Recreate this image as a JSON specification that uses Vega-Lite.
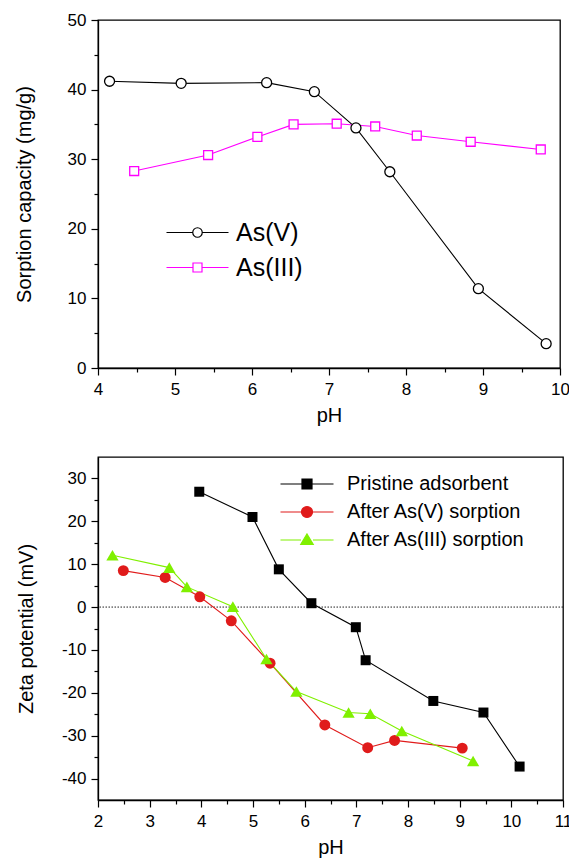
{
  "$schema": "https://vega.github.io/schema/vega-lite/v6.json",
  "padding": {"left": 13, "top": 10, "right": 0, "bottom": 0},
  "spacing": 30,
  "resolve": {
    "scale": {"color": "independent"},
    "legend": {"color": "independent"}
  },
  "config": {
    "font": "Liberation Sans",
    "view": {"stroke": "black", "strokeWidth": 1.3},
    "axis": {
      "grid": false,
      "domainColor": "black",
      "domainWidth": 1.3,
      "tickColor": "black",
      "tickWidth": 1.2,
      "labelColor": "black",
      "titleColor": "black",
      "labelFont": "Liberation Sans",
      "titleFont": "Liberation Sans",
      "labelFontSize": 17,
      "titleFontSize": 20,
      "titleFontWeight": "normal",
      "labelOverlap": false,
      "labelFlush": false
    },
    "legend": {"labelFont": "Liberation Sans", "labelColor": "black", "labelLimit": 400}
  },
  "vconcat": [
    {
      "width": 462,
      "height": 348,
      "data": {"values": [
        {"series": "As(V)", "pH": 4.15, "q": 41.2},
        {"series": "As(V)", "pH": 5.08, "q": 40.9},
        {"series": "As(V)", "pH": 6.19, "q": 41.0},
        {"series": "As(V)", "pH": 6.81, "q": 39.7},
        {"series": "As(V)", "pH": 7.35, "q": 34.5},
        {"series": "As(V)", "pH": 7.79, "q": 28.2},
        {"series": "As(V)", "pH": 8.94, "q": 11.4},
        {"series": "As(V)", "pH": 9.82, "q": 3.5},
        {"series": "As(III)", "pH": 4.47, "q": 28.3},
        {"series": "As(III)", "pH": 5.43, "q": 30.6},
        {"series": "As(III)", "pH": 6.07, "q": 33.2},
        {"series": "As(III)", "pH": 6.54, "q": 35.0},
        {"series": "As(III)", "pH": 7.10, "q": 35.1},
        {"series": "As(III)", "pH": 7.60, "q": 34.7},
        {"series": "As(III)", "pH": 8.14, "q": 33.4},
        {"series": "As(III)", "pH": 8.84, "q": 32.5},
        {"series": "As(III)", "pH": 9.75, "q": 31.4}
      ]},
      "encoding": {
        "x": {"field": "pH", "type": "quantitative", "title": "pH",
          "scale": {"domain": [4, 10], "nice": false, "zero": false},
          "axis": {"values": [4, 4.5, 5, 5.5, 6, 6.5, 7, 7.5, 8, 8.5, 9, 9.5, 10],
            "labelExpr": "datum.value % 1 === 0 ? '' + datum.value : ''",
            "tickSize": {"condition": {"test": "datum.value % 1 === 0", "value": 7}, "value": 4},
            "labelPadding": 6, "titlePadding": 8}},
        "y": {"field": "q", "type": "quantitative", "title": "Sorption capacity (mg/g)",
          "scale": {"domain": [0, 50], "nice": false},
          "axis": {"values": [0, 5, 10, 15, 20, 25, 30, 35, 40, 45, 50],
            "labelExpr": "datum.value % 10 === 0 ? '' + datum.value : ''",
            "tickSize": {"condition": {"test": "datum.value % 10 === 0", "value": 7}, "value": 4},
            "labelPadding": 5, "titlePadding": 33}}
      },
      "layer": [
        {
          "mark": {"type": "line", "strokeWidth": 1.1},
          "encoding": {
            "color": {"field": "series", "type": "nominal",
              "scale": {"domain": ["As(V)", "As(III)"], "range": ["#000000", "#ff00ff"]},
              "legend": {"title": null, "orient": "none", "legendX": 87, "legendY": 200,
                "labelFontSize": 25, "symbolSize": 100, "symbolStrokeWidth": 1.2,
                "labelOffset": 26, "rowPadding": 9,
                "encoding": {"symbols": {
                  "shape": {"value": {"expr": "datum.value === 'As(V)' ? 'M-6.2,0L-0.95,0M0.95,0L6.2,0M-0.95,0A0.95,0.95,0,1,1,0.95,0A0.95,0.95,0,1,1,-0.95,0Z' : 'M-6.2,0L-0.9,0M0.9,0L6.2,0M-0.9,-0.9L0.9,-0.9L0.9,0.9L-0.9,0.9Z'"}},
                  "size": {"value": 100},
                  "fill": {"value": "white"},
                  "strokeWidth": {"value": 1.2}
                }}}}
          }
        },
        {
          "transform": [{"filter": "datum.series === 'As(V)'"}],
          "mark": {"type": "point", "shape": "circle", "size": 100, "filled": false, "fill": "white", "stroke": "#000000", "strokeWidth": 1.3, "opacity": 1}
        },
        {
          "transform": [{"filter": "datum.series === 'As(III)'"}],
          "mark": {"type": "point", "shape": "square", "size": 80, "filled": false, "fill": "white", "stroke": "#ff00ff", "strokeWidth": 1.3, "opacity": 1}
        },
        {
          "data": {"values": [{"label": "(a)"}]},
          "mark": {"type": "text", "fontSize": 19, "font": "Liberation Sans", "color": "black"},
          "encoding": {"x": {"datum": 4.36}, "y": {"datum": 46.3}, "text": {"field": "label"}}
        }
      ]
    },
    {
      "width": 465,
      "height": 343,
      "data": {"values": [
        {"series": "Pristine adsorbent", "pH": 3.96, "zeta": 26.9},
        {"series": "Pristine adsorbent", "pH": 4.99, "zeta": 21.0},
        {"series": "Pristine adsorbent", "pH": 5.50, "zeta": 8.8},
        {"series": "Pristine adsorbent", "pH": 6.13, "zeta": 0.9},
        {"series": "Pristine adsorbent", "pH": 6.99, "zeta": -4.7},
        {"series": "Pristine adsorbent", "pH": 7.18, "zeta": -12.4},
        {"series": "Pristine adsorbent", "pH": 8.49, "zeta": -21.9},
        {"series": "Pristine adsorbent", "pH": 9.46, "zeta": -24.6},
        {"series": "Pristine adsorbent", "pH": 10.16, "zeta": -37.2},
        {"series": "After As(V) sorption", "pH": 2.49, "zeta": 8.5},
        {"series": "After As(V) sorption", "pH": 3.30, "zeta": 6.9},
        {"series": "After As(V) sorption", "pH": 3.97, "zeta": 2.4},
        {"series": "After As(V) sorption", "pH": 4.58, "zeta": -3.2},
        {"series": "After As(V) sorption", "pH": 5.33, "zeta": -13.1},
        {"series": "After As(V) sorption", "pH": 6.39, "zeta": -27.5},
        {"series": "After As(V) sorption", "pH": 7.22, "zeta": -32.8},
        {"series": "After As(V) sorption", "pH": 7.74, "zeta": -31.1},
        {"series": "After As(V) sorption", "pH": 9.05, "zeta": -32.9},
        {"series": "After As(III) sorption", "pH": 2.28, "zeta": 12.1},
        {"series": "After As(III) sorption", "pH": 3.38, "zeta": 9.2},
        {"series": "After As(III) sorption", "pH": 3.72, "zeta": 4.7},
        {"series": "After As(III) sorption", "pH": 4.61, "zeta": 0.1},
        {"series": "After As(III) sorption", "pH": 5.26, "zeta": -12.1},
        {"series": "After As(III) sorption", "pH": 5.84, "zeta": -19.7},
        {"series": "After As(III) sorption", "pH": 6.85, "zeta": -24.6},
        {"series": "After As(III) sorption", "pH": 7.27, "zeta": -24.9},
        {"series": "After As(III) sorption", "pH": 7.88, "zeta": -28.9},
        {"series": "After As(III) sorption", "pH": 9.26, "zeta": -35.9}
      ]},
      "encoding": {
        "x": {"field": "pH", "type": "quantitative", "title": "pH",
          "scale": {"domain": [2, 11], "nice": false, "zero": false},
          "axis": {"values": [2, 2.5, 3, 3.5, 4, 4.5, 5, 5.5, 6, 6.5, 7, 7.5, 8, 8.5, 9, 9.5, 10, 10.5, 11],
            "labelExpr": "datum.value % 1 === 0 ? '' + datum.value : ''",
            "tickSize": {"condition": {"test": "datum.value % 1 === 0", "value": 7}, "value": 4},
            "labelPadding": 6, "titlePadding": 8}},
        "y": {"field": "zeta", "type": "quantitative", "title": "Zeta potential (mV)",
          "scale": {"domain": [-45, 35], "nice": false, "zero": false},
          "axis": {"values": [-40, -35, -30, -25, -20, -15, -10, -5, 0, 5, 10, 15, 20, 25, 30],
            "labelExpr": "datum.value % 10 === 0 ? '' + datum.value : ''",
            "tickSize": {"condition": {"test": "datum.value % 10 === 0", "value": 7}, "value": 4},
            "labelPadding": 5, "titlePadding": 25}}
      },
      "layer": [
        {
          "data": {"values": [{"zero": 0}]},
          "mark": {"type": "rule", "strokeDash": [1.5, 1.5], "strokeWidth": 1, "color": "#222222"},
          "encoding": {"y": {"field": "zero", "type": "quantitative"}, "x": null}
        },
        {
          "mark": {"type": "line", "strokeWidth": 1.1},
          "encoding": {
            "color": {"field": "series", "type": "nominal",
              "scale": {"domain": ["Pristine adsorbent", "After As(V) sorption", "After As(III) sorption"],
                "range": ["#000000", "#e01b1b", "#80f000"]},
              "legend": {"title": null, "orient": "none", "legendX": 199, "legendY": 17,
                "labelFontSize": 20, "symbolSize": 100, "symbolStrokeWidth": 1.2,
                "labelOffset": 30, "rowPadding": 8,
                "encoding": {"symbols": {
                  "shape": {"value": {"expr": "datum.value === 'Pristine adsorbent' ? 'M-5.3,0L-1,0M1,0L5.3,0M-1,-1L1,-1L1,1L-1,1Z' : datum.value === 'After As(V) sorption' ? 'M-5.3,0L-1.1,0M1.1,0L5.3,0M-1.1,0A1.1,1.1,0,1,1,1.1,0A1.1,1.1,0,1,1,-1.1,0Z' : 'M-5.3,0L-1.2,0M1.2,0L5.3,0M0,-1.2L1.25,0.9L-1.25,0.9Z'"}},
                  "size": {"value": 100},
                  "fill": {"value": {"expr": "datum.value === 'Pristine adsorbent' ? '#000000' : datum.value === 'After As(V) sorption' ? '#e01b1b' : '#80f000'"}},
                  "strokeWidth": {"value": 1.2}
                }}}}
          }
        },
        {
          "transform": [{"filter": "datum.series === 'Pristine adsorbent'"}],
          "mark": {"type": "point", "shape": "square", "size": 100, "filled": true, "color": "#000000", "opacity": 1}
        },
        {
          "transform": [{"filter": "datum.series === 'After As(V) sorption'"}],
          "mark": {"type": "point", "shape": "circle", "size": 120, "filled": true, "color": "#e01b1b", "opacity": 1}
        },
        {
          "transform": [{"filter": "datum.series === 'After As(III) sorption'"}],
          "mark": {"type": "point", "shape": "triangle-up", "size": 150, "filled": true, "color": "#80f000", "opacity": 1}
        },
        {
          "data": {"values": [{"label": "(b)"}]},
          "mark": {"type": "text", "fontSize": 19, "font": "Liberation Sans", "color": "black"},
          "encoding": {"x": {"datum": 2.61}, "y": {"datum": 28.5}, "text": {"field": "label"}}
        }
      ]
    }
  ]
}
